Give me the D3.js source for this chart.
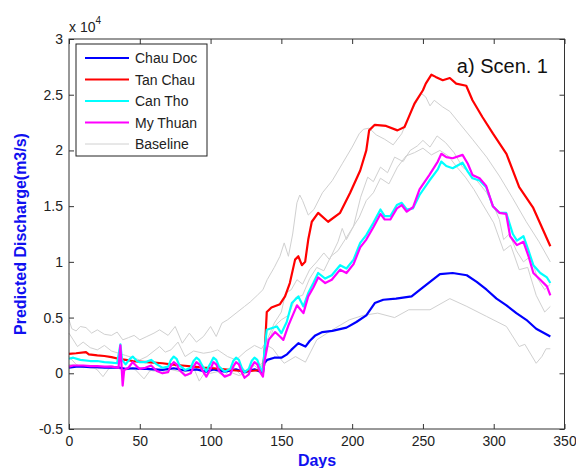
<!DOCTYPE html>
<html lang="en">
  <head>
    <meta charset="utf-8" />
    <title>Predicted Discharge - Scen. 1</title>
    <script src="https://cdn.jsdelivr.net/npm/d3@7"></script>
    <style>
      body {
        margin: 0;
        background: #fff;
      }
      text {
        font-family: Arial, "Liberation Sans", sans-serif;
      }
      .axis text {
        font-size: 14px;
        fill: #222;
      }
      .axis path {
        display: none;
      }
      .axis line {
        stroke: #333;
      }
      .series {
        fill: none;
        stroke-linejoin: round;
      }
    </style>
  </head>
  <body>
    <svg id="chart"></svg>
    <script>
      // [day, discharge in m3/s]
      const chauDoc = [[0,500],[5,600],[10,600],[15,550],[20,550],[25,500],[30,500],[36,500],[40,400],[45,450],[50,400],[55,400],[60,350],[66,300],[74,450],[82,250],[90,350],[97,150],[102,350],[110,150],[118,350],[124,100],[131,350],[137,50],[138,900],[140,1200],[145,1400],[150,1400],[154,1700],[157,2100],[162,2700],[167,2400],[170,2900],[174,3400],[179,3700],[186,3800],[196,4100],[203,4600],[210,5200],[216,6300],[222,6600],[231,6700],[242,6900],[248,7500],[255,8200],[262,8900],[271,9000],[281,8800],[288,8200],[295,7500],[302,6700],[309,6100],[316,5400],[323,4800],[330,4000],[340,3300]];

      const tanChau = [[0,1750],[5,1800],[12,1900],[14,1700],[20,1600],[25,1550],[30,1450],[35,1300],[40,1200],[45,1100],[50,1050],[55,1000],[60,950],[66,900],[72,800],[80,700],[88,600],[95,500],[102,450],[110,350],[118,250],[125,200],[132,250],[137,300],[138.5,2500],[139.7,5500],[143,5900],[149,6200],[152.6,6900],[156,8100],[159.7,10200],[162,10500],[164.5,9700],[166.8,10000],[169,12000],[171.5,13600],[176,14400],[183,13600],[191.5,14400],[198.6,16200],[205.7,18200],[210,20000],[212,21800],[216,22300],[224,22200],[232,21800],[237,22100],[239,22700],[244,24200],[250,25400],[252,26000],[256,26800],[259,26600],[264,26300],[269,26500],[273.5,26000],[280.6,25800],[285,24500],[292,23000],[299.5,21500],[309,19700],[318,16700],[327.7,14900],[340,11400]];

      const canTho = [[0,1300],[3,1400],[8,1200],[15,1100],[20,1100],[25,1000],[30,950],[34,900],[36.3,2600],[37.5,1200],[40,800],[43,1300],[45,1500],[48,1100],[50,1000],[54,1000],[58,1200],[62,800],[66,500],[70,600],[72,1200],[74,1500],[76,1300],[78,700],[82,300],[86,500],[88,1100],[90,1400],[92,1200],[94,700],[97,200],[100,900],[102,1400],[104,1200],[106,600],[110,150],[114,400],[116,1100],[118,1400],[120,1200],[122,500],[124,100],[127,400],[129,1100],[131,1400],[133,1200],[135,500],[137,100],[138,2000],[139.7,3900],[146.8,4200],[150,3600],[153.8,4600],[157.4,6300],[162,6900],[165.6,6000],[169,7200],[172.6,8100],[176,9000],[181,8500],[185.6,8800],[191.5,9700],[196,9400],[201,10200],[205.7,11700],[210,12400],[215,13500],[220,14700],[223,14100],[227,14100],[231.6,15100],[235,15300],[238.6,14700],[243,14800],[247.6,16000],[254.6,17300],[260.5,18300],[263,19000],[266.5,18600],[271,18400],[278,18900],[281.7,18100],[285,17500],[290,17300],[294.7,16700],[299.4,15000],[304,14400],[308.8,14400],[313.5,12500],[316.4,11900],[321,12300],[324.6,11000],[328,9700],[332.9,9000],[337.6,8600],[340,8100]];

      const myThuan = [[0,600],[3,700],[10,700],[15,650],[20,650],[25,600],[30,600],[35,500],[36.3,2500],[37.9,-1100],[39,300],[42,500],[45,1000],[48,600],[50,400],[54,500],[58,700],[62,200],[66,0],[70,100],[72,700],[74,1000],[76,800],[78,300],[82,-200],[86,0],[88,600],[90,1000],[92,800],[94,300],[97,-300],[100,400],[102,1000],[104,800],[106,200],[110,-300],[114,-100],[116,600],[118,1000],[120,800],[122,100],[124,-400],[127,-100],[129,600],[131,1000],[133,800],[135,100],[137,-300],[138,1000],[141,3000],[145.6,3700],[149,3300],[151.4,3000],[155,4300],[161,6100],[165.6,5400],[169,6900],[172.6,7700],[176,8600],[181,8100],[185.6,8400],[191.5,9300],[196,9000],[201,9800],[205.7,11300],[210,12000],[215,13100],[220,14300],[223,13800],[227,13800],[231.6,14800],[235,15100],[238.6,14500],[243,14900],[247.6,16500],[254.6,17800],[260.5,19000],[263,19700],[266.5,19400],[271,19300],[278,19600],[281.7,18800],[285,17800],[290,17500],[294.7,16800],[299.4,15000],[304,14400],[308.8,14300],[311.6,12300],[316.4,11500],[321,11800],[324.6,10500],[328,9000],[332.9,8400],[337.6,7800],[340,7000]];

      // the four baseline runs (grey)
      const baseTanChau = [[0,4800],[2,4000],[5,3800],[8,4200],[12,4100],[16,3600],[20,3900],[25,3500],[30,3400],[34,3700],[38,3000],[42,3200],[46,3400],[50,3000],[55,3300],[60,3600],[64,3900],[70,3400],[75,4200],[80,2700],[85,3600],[90,2800],[95,3300],[100,4200],[104,3300],[108,4500],[112,4800],[118,5400],[124,6000],[128,6400],[133,7000],[137,7500],[140,8400],[145,9500],[149,10500],[152,11700],[155,10500],[158,12500],[161,15300],[163,16000],[165,15500],[169,14200],[173,14700],[179,16200],[186,17300],[193,18800],[200,20300],[205,21500],[208,21900],[212,22000],[217,21400],[223,21000],[229,20500],[235,21500],[240,23000],[246,24500],[249,25100],[252,24800],[255,24000],[258,24500],[264,23900],[269,23500],[276,22400],[285,21000],[295,19400],[304,17700],[313,15800],[323,13600],[332,11800],[340,10000]];

      const baseCanTho = [[0,3600],[3,3000],[6,2400],[10,2800],[15,2300],[20,2100],[25,2500],[30,2000],[35,1800],[40,1600],[45,1400],[50,1200],[55,1500],[60,2000],[64,2400],[68,1900],[72,2100],[77,2800],[82,1500],[88,2000],[95,1800],[100,1900],[105,2100],[112,1500],[118,1200],[125,2000],[131,2500],[136,2200],[140,3000],[145,4500],[150,5500],[153,7200],[157,7500],[161,8400],[165,8000],[170,9300],[175,10000],[180,10800],[184,10200],[190,11800],[193,13000],[196,12000],[201,13200],[206,15800],[211,17600],[215,17200],[220,18500],[225,18000],[230,19400],[236,19000],[241,20000],[246,20400],[250,20900],[255,20300],[260,21300],[266,20700],[272,19800],[278,18500],[284,17900],[290,17000],[295,16200],[300,15000],[304,13800],[307,12000],[311,12500],[316,11000],[321,10000],[326,10500],[331,8500],[336,7500],[340,8000]];

      const baseMyThuan = [[0,1500],[5,800],[10,500],[15,700],[20,300],[24,-300],[28,400],[33,600],[38,200],[42,500],[47,300],[53,-500],[57,200],[62,400],[68,100],[74,800],[78,200],[84,-200],[88,500],[92,-700],[96,100],[102,600],[106,0],[110,-200],[116,600],[121,-100],[126,300],[131,700],[135,200],[140,2500],[145,4200],[150,4800],[155,5200],[160,6800],[165,7000],[170,8500],[175,9500],[180,9200],[185,10500],[190,11000],[195,12000],[200,13000],[205,14000],[210,15500],[215,16200],[220,17500],[226,17000],[232,18500],[238,19500],[244,19800],[250,20200],[256,19600],[262,20000],[268,19500],[274,18500],[280,17600],[286,16500],[292,15200],[300,13500],[307,11000],[312,11500],[318,9300],[324,9500],[330,7000],[336,5500],[340,6000]];

      const baseChauDoc = [[0,800],[10,600],[20,400],[30,700],[40,300],[50,500],[60,200],[70,400],[80,100],[90,300],[100,0],[110,300],[120,-200],[130,200],[137,1000],[140,2500],[144,2200],[148,1500],[152,900],[160,1500],[167,1000],[175,3000],[186,3900],[198,4800],[208,5200],[218,5400],[230,5000],[240,5700],[255,5700],[269,6700],[281,6000],[295,5100],[309,4200],[318,2400],[322,2600],[330,900],[334,1500],[337,2200],[340,2200]];

      const xTicks = [0, 50, 100, 150, 200, 250, 300, 350];
      const yTicks = [-5000, 0, 5000, 10000, 15000, 20000, 25000, 30000];

      const legendNames = ["Chau Doc", "Tan Chau", "Can Tho", "My Thuan", "Baseline"];
      const legendColors = ["#0000ff", "#ff0000", "#00ffff", "#ff00ff", "#d0d0d0"];

      const margin = { top: 39, right: 11.5, bottom: 39, left: 69 };
      const width = 576 - margin.left - margin.right;
      const height = 468 - margin.top - margin.bottom;

      const svg = d3.select("#chart").attr("width", 576).attr("height", 468);
      const g = svg.append("g").attr("transform", `translate(${margin.left},${margin.top})`);

      const xscale = d3.scaleLinear().domain([0, 350]).range([0, width]);
      const yscale = d3.scaleLinear().domain([-5000, 30000]).range([height, 0]);

      const line = d3
        .line()
        .x(d => xscale(d[0]))
        .y(d => yscale(d[1]));

      // grey baselines first, the scenario runs over them
      [baseTanChau, baseCanTho, baseMyThuan, baseChauDoc].forEach(s => {
        g.append("path")
          .attr("class", "series")
          .attr("d", line(s))
          .attr("stroke", legendColors[4])
          .attr("stroke-width", 1);
      });

      [chauDoc, tanChau, canTho, myThuan].forEach((s, i) => {
        g.append("path")
          .attr("class", "series")
          .attr("d", line(s))
          .attr("stroke", legendColors[i])
          .attr("stroke-width", 2.2);
      });

      // box with inward ticks on all sides (matlab style)
      g.append("g")
        .attr("class", "axis")
        .attr("transform", `translate(0,${height})`)
        .call(d3.axisBottom(xscale).tickValues(xTicks).tickSizeInner(-5).tickSizeOuter(0).tickPadding(7));
      g.append("g")
        .attr("class", "axis")
        .call(d3.axisTop(xscale).tickValues(xTicks).tickSizeInner(-5).tickSizeOuter(0).tickFormat(""));
      g.append("g")
        .attr("class", "axis")
        .call(
          d3
            .axisLeft(yscale)
            .tickValues(yTicks)
            .tickSizeInner(-5)
            .tickSizeOuter(0)
            .tickPadding(6)
            .tickFormat(d => String(d / 1e4))
        );
      g.append("g")
        .attr("class", "axis")
        .attr("transform", `translate(${width},0)`)
        .call(d3.axisRight(yscale).tickValues(yTicks).tickSizeInner(-5).tickSizeOuter(0).tickFormat(""));

      g.append("rect")
        .attr("width", width)
        .attr("height", height)
        .attr("fill", "none")
        .attr("stroke", "#333")
        .attr("stroke-width", 1);

      // exponent
      const expo = svg.append("text").attr("x", 69).attr("y", 32).attr("font-size", 14).attr("fill", "#222");
      expo.append("tspan").text("x 10");
      expo.append("tspan").attr("font-size", 10).attr("dy", -8).text("4");

      // legend
      const legend = svg.append("g").attr("transform", "translate(76,44)");
      legend
        .append("rect")
        .attr("width", 131)
        .attr("height", 112)
        .attr("fill", "#fff")
        .attr("stroke", "#222")
        .attr("stroke-width", 1);
      legendNames.forEach((name, i) => {
        const ly = 14 + i * 21.5;
        legend
          .append("line")
          .attr("x1", 9)
          .attr("x2", 53)
          .attr("y1", ly)
          .attr("y2", ly)
          .attr("stroke", legendColors[i])
          .attr("stroke-width", i < 4 ? 2.2 : 1);
        legend
          .append("text")
          .attr("x", 59)
          .attr("y", ly)
          .attr("dy", "0.36em")
          .attr("font-size", 14)
          .attr("fill", "#222")
          .text(name);
      });

      svg.append("text")
        .attr("x", 548)
        .attr("y", 73)
        .attr("text-anchor", "end")
        .attr("font-family", "'Open Sans', sans-serif")
        .attr("font-size", 20)
        .attr("fill", "#111")
        .text("a) Scen. 1");

      // axis titles
      svg.append("text")
        .attr("transform", "translate(20,234) rotate(-90)")
        .attr("text-anchor", "middle")
        .attr("dy", "0.36em")
        .attr("font-size", 16)
        .attr("font-weight", "bold")
        .attr("fill", "#1010f0")
        .text("Predicted Discharge(m3/s)");

      svg.append("text")
        .attr("x", 317)
        .attr("y", 466)
        .attr("text-anchor", "middle")
        .attr("font-size", 16)
        .attr("font-weight", "bold")
        .attr("fill", "#1010f0")
        .text("Days");
    </script>
  </body>
</html>
